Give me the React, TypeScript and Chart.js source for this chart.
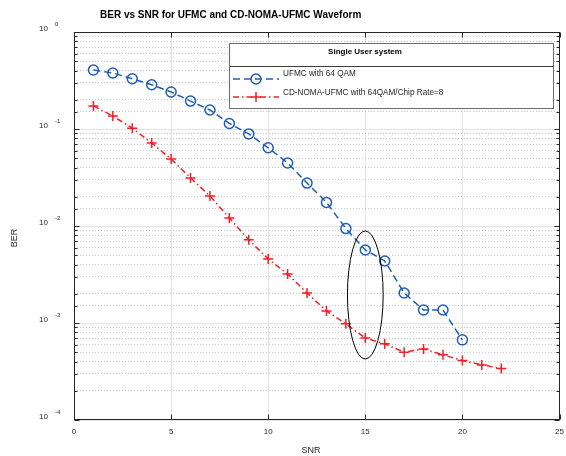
import React, { useEffect, useRef } from "react";
import { Chart, registerables } from "chart.js";

Chart.register(...registerables);

// ---- data ----
const snrUfmc = [1, 2, 3, 4, 5, 6, 7, 8, 9, 10, 11, 12, 13, 14, 15, 16, 17, 18, 19, 20];
const berUfmc = [0.406, 0.378, 0.33, 0.286, 0.241, 0.194, 0.157, 0.114, 0.089, 0.064, 0.0446, 0.0277, 0.0175, 0.0094, 0.00566, 0.00436, 0.00204, 0.00136, 0.00136, 0.00067];
const snrNoma = [1, 2, 3, 4, 5, 6, 7, 8, 9, 10, 11, 12, 13, 14, 15, 16, 17, 18, 19, 20, 21, 22];
const berNoma = [0.173, 0.136, 0.102, 0.0718, 0.049, 0.0313, 0.0204, 0.0121, 0.0072, 0.00457, 0.0032, 0.00204, 0.00133, 0.00098, 0.0007, 0.00061, 0.0005, 0.00054, 0.00047, 0.00041, 0.00037, 0.00034];
const seriesLabels = ["UFMC with 64 QAM", "CD-NOMA-UFMC with 64QAM/Chip Rate=8"];
const xMin = 0;
const xMax = 25;
const xStep = 5;
const yMin = 1e-4;
const yMax = 1;
const chartTitle = "BER vs SNR for UFMC and CD-NOMA-UFMC Waveform";
const legendTitle = "Single User system";
const xTitle = "SNR";
const yTitle = "BER";
// highlighted region (ellipse) in data units
const ellipseSnr = [14.08, 15.92];
const ellipseBer = [0.0089, 0.000425];

const BLUE = "#1f5db6";
const RED = "#f41e26";
const FONT = "'Liberation Sans', Arial, sans-serif";
const TEXT = "#262626";

const isDecade = (v: number) => Math.abs(Math.log10(v) - Math.round(Math.log10(v))) < 1e-6;

const decorPlugin = {
  id: "matlabDecor",
  beforeDatasetsDraw(chart: any) {
    const { ctx, chartArea: a, scales } = chart;
    const x = scales.x;
    const y = scales.y;
    ctx.save();
    ctx.strokeStyle = TEXT;
    ctx.lineWidth = 1;
    const line = (x1: number, y1: number, x2: number, y2: number) => {
      ctx.beginPath();
      ctx.moveTo(x1, y1);
      ctx.lineTo(x2, y2);
      ctx.stroke();
    };
    const L = Math.round(a.left) + 0.5;
    const R = Math.round(a.right) - 0.5;
    const T = Math.round(a.top) + 0.5;
    const B = Math.round(a.bottom) - 0.5;
    for (const t of x.ticks) {
      const px = Math.round(x.getPixelForValue(t.value)) + 0.5;
      line(px, B, px, B - 5);
      line(px, T, px, T + 5);
    }
    for (const t of y.ticks) {
      const len = isDecade(t.value) ? 5 : 3;
      const py = Math.round(y.getPixelForValue(t.value)) + 0.5;
      line(L, py, L + len, py);
      line(R, py, R - len, py);
    }
    ctx.strokeRect(L, T, R - L, B - T);
    ctx.restore();
  },
  afterDraw(chart: any) {
    const { ctx, chartArea: a, scales } = chart;
    const x = scales.x;
    const y = scales.y;
    ctx.save();
    ctx.fillStyle = TEXT;
    // x tick labels
    ctx.font = `8px ${FONT}`;
    ctx.textAlign = "center";
    ctx.textBaseline = "middle";
    for (const t of x.ticks) {
      ctx.fillText(String(t.value), x.getPixelForValue(t.value), a.bottom + 12);
    }
    // y tick labels (10^n)
    for (const t of y.ticks) {
      if (!isDecade(t.value)) continue;
      const py = y.getPixelForValue(t.value);
      ctx.font = `8px ${FONT}`;
      ctx.textAlign = "right";
      ctx.fillText("10", 48, py - 3);
      ctx.font = `6px ${FONT}`;
      ctx.textAlign = "left";
      ctx.fillText(String(Math.round(Math.log10(t.value))), 55, py - 8);
    }
    // axis titles
    ctx.font = `9px ${FONT}`;
    ctx.textAlign = "center";
    ctx.fillText(xTitle, 311, 451);
    ctx.save();
    ctx.translate(15, 238);
    ctx.rotate(-Math.PI / 2);
    ctx.fillText(yTitle, 0, 0);
    ctx.restore();
    // chart title
    ctx.font = `bold 10px ${FONT}`;
    ctx.textAlign = "left";
    ctx.fillStyle = "#000";
    ctx.fillText(chartTitle, 100, 15);

    // ellipse
    const cx = x.getPixelForValue((ellipseSnr[0] + ellipseSnr[1]) / 2);
    const rx = (x.getPixelForValue(ellipseSnr[1]) - x.getPixelForValue(ellipseSnr[0])) / 2;
    const yTop = y.getPixelForValue(ellipseBer[0]);
    const yBot = y.getPixelForValue(ellipseBer[1]);
    ctx.strokeStyle = "#000";
    ctx.lineWidth = 1;
    ctx.beginPath();
    ctx.ellipse(cx, (yTop + yBot) / 2, rx, (yBot - yTop) / 2, 0, 0, Math.PI * 2);
    ctx.stroke();

    // legend box
    const bx = 229.5, by = 43.5, bw = 324, bh = 65, sep = 66.5;
    ctx.fillStyle = "#fff";
    ctx.fillRect(bx, by, bw, bh);
    ctx.strokeStyle = "#6e6e6e";
    ctx.lineWidth = 1;
    ctx.strokeRect(bx, by, bw, bh);
    ctx.strokeStyle = "#3c3c3c";
    ctx.beginPath();
    ctx.moveTo(bx, sep);
    ctx.lineTo(bx + bw, sep);
    ctx.stroke();
    ctx.fillStyle = "#000";
    ctx.font = `bold 8px ${FONT}`;
    ctx.textAlign = "center";
    ctx.fillText(legendTitle, 365, 52);
    const rowsText = [74, 93];
    const rowsLine = [79, 97];
    chart.data.datasets.forEach((ds: any, i: number) => {
      const ly = rowsLine[i];
      ctx.strokeStyle = ds.borderColor;
      ctx.lineWidth = ds.borderWidth;
      ctx.setLineDash(ds.borderDash);
      ctx.beginPath();
      ctx.moveTo(233, ly);
      ctx.lineTo(279, ly);
      ctx.stroke();
      ctx.setLineDash([]);
      const mx = 256;
      const r = ds.pointRadius;
      ctx.lineWidth = ds.pointBorderWidth;
      ctx.beginPath();
      if (ds.pointStyle === "circle") {
        ctx.arc(mx, ly, r, 0, Math.PI * 2);
      } else {
        ctx.moveTo(mx - r, ly);
        ctx.lineTo(mx + r, ly);
        ctx.moveTo(mx, ly - r);
        ctx.lineTo(mx, ly + r);
      }
      ctx.stroke();
      ctx.fillStyle = TEXT;
      ctx.font = `8.2px ${FONT}`;
      ctx.textAlign = "left";
      ctx.fillText(ds.label, 283, rowsText[i]);
    });
    ctx.restore();
  },
};

export default function App() {
  const ref = useRef<HTMLCanvasElement | null>(null);
  useEffect(() => {
    if (!ref.current) return;
    const chart = new Chart(ref.current, {
      type: "line",
      data: {
        datasets: [
          {
            label: seriesLabels[0],
            data: snrUfmc.map((s, i) => ({ x: s, y: berUfmc[i] })),
            borderColor: BLUE,
            borderWidth: 1.5,
            borderDash: [7, 4],
            pointStyle: "circle",
            pointRadius: 5,
            pointBorderWidth: 1.5,
            pointBorderColor: BLUE,
            pointBackgroundColor: "rgba(0,0,0,0)",
            fill: false,
            tension: 0,
          },
          {
            label: seriesLabels[1],
            data: snrNoma.map((s, i) => ({ x: s, y: berNoma[i] })),
            borderColor: RED,
            borderWidth: 1.5,
            borderDash: [6, 3, 1.5, 3],
            pointStyle: "cross",
            pointRadius: 5,
            pointBorderWidth: 1.5,
            pointBorderColor: RED,
            pointBackgroundColor: RED,
            fill: false,
            tension: 0,
          },
        ],
      },
      options: {
        responsive: false,
        maintainAspectRatio: false,
        devicePixelRatio: 1,
        animation: false,
        layout: { padding: { left: 74, right: 3, top: 32, bottom: 36 } },
        plugins: {
          legend: { display: false },
          tooltip: { enabled: false },
          title: { display: false },
        },
        scales: {
          x: {
            type: "linear",
            min: xMin,
            max: xMax,
            ticks: { display: false, stepSize: xStep },
            grid: { color: "#e3e3e3", drawTicks: false, lineWidth: 1 },
            border: { display: false },
          },
          y: {
            type: "logarithmic",
            min: yMin,
            max: yMax,
            ticks: { display: false },
            grid: {
              drawTicks: false,
              lineWidth: 1,
              color: (c: any) => (c.tick && isDecade(c.tick.value) ? "#e3e3e3" : "#c8c8c8"),
            },
            border: {
              display: false,
              dash: (c: any) => (c.tick && isDecade(c.tick.value) ? [] : [1, 2]),
            },
          },
        },
      },
      plugins: [decorPlugin],
    } as any);
    return () => chart.destroy();
  }, []);
  return (
    <div style={{ position: "absolute", left: 0, top: 0, width: 566, height: 456, background: "#fff" }}>
      <canvas ref={ref} width={566} height={456} />
    </div>
  );
}
